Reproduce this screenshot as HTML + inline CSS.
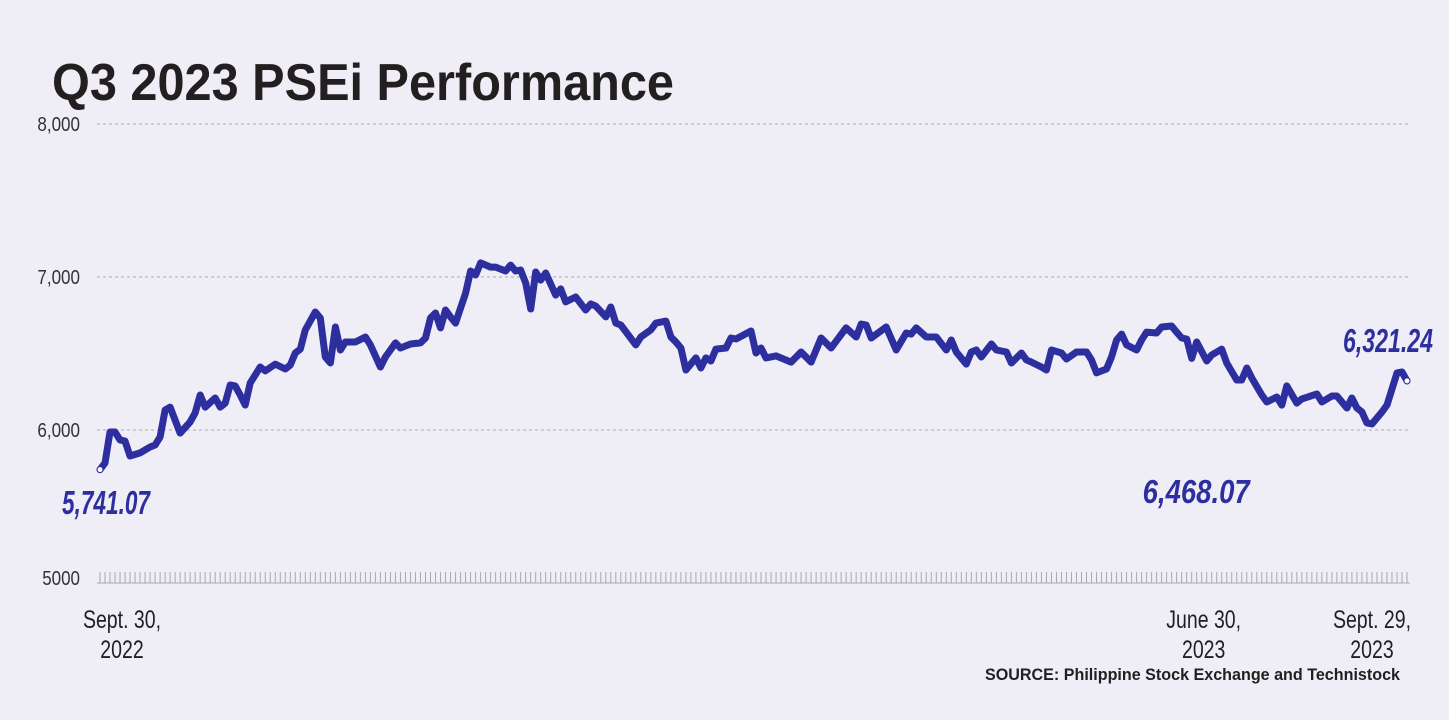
<!DOCTYPE html>
<html><head><meta charset="utf-8"><style>
html,body{margin:0;padding:0;background:#efeef7;}
svg{display:block;font-family:"Liberation Sans",sans-serif;}
</style></head><body>
<svg id="chart" width="1449" height="720" viewBox="0 0 1449 720">
<rect x="0" y="0" width="1449" height="720" fill="#efeef7"/>
<text x="52" y="100" font-size="52" font-weight="bold" fill="#231f20" textLength="622" lengthAdjust="spacingAndGlyphs">Q3 2023 PSEi Performance</text>
<g id="grid"></g>
<g id="yaxis"></g>
<g id="ticks"></g>
<g id="xlabels"></g>
<path id="line" fill="none" stroke="#2e2f9f" stroke-width="7" stroke-linejoin="round" stroke-linecap="round"/>
<g id="annos"></g>
<text x="1400" y="680" font-size="17" font-weight="bold" fill="#231f20" text-anchor="end" textLength="415" lengthAdjust="spacingAndGlyphs">SOURCE: Philippine Stock Exchange and Technistock</text>
</svg>
<script>
const days=[0,1,2,3,4,5,6,8,10,11,12,13,14,16,18,19,20,21,23,24,25,26,27,28,29,30,32,33,35,37,38,39,40,41,43,44,45,46,47,48,49,51,53,54,56,57,59,60,62,64,65,66,67,68,69,70,71,73,74,75,76,78,79,81,82,83,84,85,86,87,88,89,91,92,93,95,97,98,99,101,102,103,104,107,108,110,111,113,114,115,116,117,119,120,121,122,123,125,126,127,130,131,132,133,135,138,140,142,144,146,149,151,152,153,154,157,159,161,162,163,165,167,169,170,171,173,174,175,176,178,179,181,182,184,185,186,188,189,190,192,193,195,197,198,199,201,202,203,204,205,207,208,209,211,212,214,215,216,217,218,219,221,222,224,225,227,228,229,230,232,233,235,236,237,239,240,243,244,246,247,249,250,251,252,253,254,256,257,259,260,261];
const values=[5741,5784,5987,5987,5935,5928,5830,5850,5889,5902,5954,6131,6150,5980,6052,6111,6229,6150,6209,6150,6176,6294,6288,6229,6163,6307,6412,6386,6431,6399,6425,6503,6529,6654,6771,6732,6477,6438,6673,6523,6575,6575,6608,6556,6412,6477,6569,6536,6562,6569,6601,6732,6765,6667,6784,6739,6699,6895,7039,7013,7092,7065,7065,7039,7078,7039,7046,6961,6791,7033,6980,7026,6882,6922,6837,6869,6784,6824,6810,6739,6804,6699,6686,6556,6608,6654,6699,6712,6608,6575,6536,6392,6471,6405,6471,6451,6529,6536,6601,6595,6647,6503,6536,6471,6484,6444,6510,6444,6601,6536,6667,6608,6693,6686,6601,6673,6523,6634,6627,6667,6608,6608,6523,6588,6510,6431,6510,6523,6477,6562,6523,6510,6438,6503,6458,6444,6412,6392,6523,6503,6464,6510,6510,6458,6373,6399,6477,6588,6627,6556,6523,6588,6640,6634,6673,6680,6640,6601,6595,6468,6575,6451,6490,6529,6438,6327,6327,6405,6340,6229,6183,6216,6163,6288,6176,6203,6235,6183,6222,6222,6144,6209,6144,6118,6046,6039,6118,6163,6373,6379,6321];
const yTicks=[8000,7000,6000,5000];
const yTickLabels=["8,000","7,000","6,000","5000"];
const xLabelDays=[0,218,261];
const xLabelLines=[["Sept. 30,","2022"],["June 30,","2023"],["Sept. 29,","2023"]];
const annoDays=[0,218,261];
const annoTexts=["5,741.07","6,468.07","6,321.24"];
const NS="http://www.w3.org/2000/svg";
const X0=100,X1=1407,D0=0,D1=261;
const x=d=>X0+(d-D0)/(D1-D0)*(X1-X0);
const y=v=>430-(v-6000)*0.153;
function mk(tag,attrs,parent){const e=document.createElementNS(NS,tag);for(const k in attrs)e.setAttribute(k,attrs[k]);parent.appendChild(e);return e;}
function condense(t,f){const w=t.getComputedTextLength();t.setAttribute('textLength',(w*f).toFixed(1));t.setAttribute('lengthAdjust','spacingAndGlyphs');}
const grid=document.getElementById('grid'),ya=document.getElementById('yaxis');
yTicks.forEach((t,i)=>{
  if(t>5000){const l=mk('line',{x1:97,x2:1410,y1:y(t),y2:y(t),stroke:'#a8a8b0','stroke-width':1,'stroke-dasharray':'3 3'},grid);
  
  }
  const tx=mk('text',{x:80,y:(t===5000?585:y(t)+7),'font-size':20,fill:'#333','text-anchor':'end'},ya);
  tx.textContent=yTickLabels[i];
  
  
  condense(tx,0.85);
});
const tk=document.getElementById('ticks');
for(let d=0;d<=D1;d++){
  const l=mk('line',{x1:x(d),x2:x(d),y1:572,y2:583,stroke:'#a8a8b0','stroke-width':1},tk);
  
  
}
mk('line',{x1:97,x2:1410,y1:583,y2:583,stroke:'#a8a8b0','stroke-width':1},tk);
const xl=document.getElementById('xlabels');
xLabelDays.forEach((d,i)=>{
  xLabelLines[i].forEach((s,j)=>{
    const t=mk('text',{x:x(d)+(i===0?22:(i===2?-35:12)),y:628+j*30,'font-size':25,fill:'#231f20','text-anchor':'middle'},xl);
    t.textContent=s;
    
    
    condense(t,0.78);
  });
});
let p='';days.forEach((d,i)=>{p+=(i?'L':'M')+x(d).toFixed(1)+','+y(values[i]).toFixed(1);});
document.getElementById('line').setAttribute('d',p);
const an=document.getElementById('annos');
const offs=[[-38,514],[-49,503],[-64,352]];
const widths=[88,107,90];
annoDays.forEach((d,i)=>{
  const vi=days.indexOf(d);
  if(i!==1){const c=mk('circle',{cx:x(d),cy:y(values[vi]),r:3,fill:'#fff',stroke:'#2e2f9f','stroke-width':1},an);
  
  }
  const t=mk('text',{x:x(d)+offs[i][0],y:offs[i][1],'font-size':33,'font-weight':'bold','font-style':'italic',fill:'#2e2f9f',textLength:widths[i],lengthAdjust:'spacingAndGlyphs'},an);
  t.textContent=annoTexts[i];
  
  
});
</script>
</body></html>
